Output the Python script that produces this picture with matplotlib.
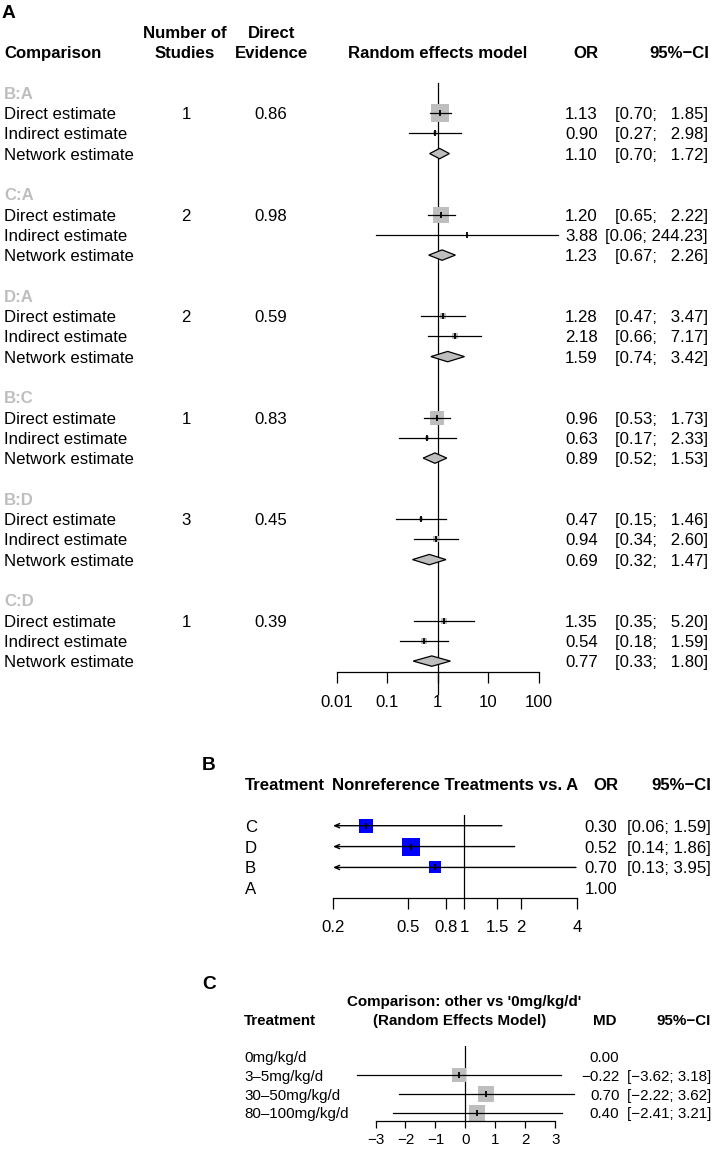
"""
Network meta-analysis forest plots, three panels on one page.

    A  split of direct / indirect / network estimates per comparison (OR, log axis)
    B  nonreference treatments vs. A (OR, log axis)
    C  dose groups vs. 0mg/kg/d, random effects model (MD, linear axis)

Layout is done in pixel units of the 713 x 1155 output; every mark is drawn
in data coordinates of the panel axes.
"""
import matplotlib

matplotlib.use("Agg")
import matplotlib.pyplot as plt
import numpy as np
from matplotlib.patches import Polygon
from matplotlib.transforms import blended_transform_factory

FIG_W, FIG_H = 713, 1155
DPI = 100
GRAY = "#bebebe"
VA = "center_baseline"

plt.rcParams["font.family"] = ["Liberation Sans", "DejaVu Sans"]

# ---------------- panel A: netsplit ----------------
comparisons = ["B:A", "C:A", "D:A", "B:C", "B:D", "C:D"]
n_studies = [1, 2, 2, 1, 3, 1]
direct_evidence = [0.86, 0.98, 0.59, 0.83, 0.45, 0.39]

direct_or = [1.13, 1.20, 1.28, 0.96, 0.47, 1.35]
direct_lo = [0.70, 0.65, 0.47, 0.53, 0.15, 0.35]
direct_hi = [1.85, 2.22, 3.47, 1.73, 1.46, 5.20]
direct_weight = [1.00, 0.84, 0.36, 0.74, 0.24, 0.30]

indirect_or = [0.90, 3.88, 2.18, 0.63, 0.94, 0.54]
indirect_lo = [0.27, 0.06, 0.66, 0.17, 0.34, 0.18]
indirect_hi = [2.98, 244.23, 7.17, 2.33, 2.60, 1.59]
indirect_weight = [0.18, 0.08, 0.30, 0.24, 0.30, 0.36]

network_or = [1.10, 1.23, 1.59, 0.89, 0.69, 0.77]
network_lo = [0.70, 0.67, 0.74, 0.52, 0.32, 0.33]
network_hi = [1.72, 2.26, 3.42, 1.53, 1.47, 1.80]

a_ticks = [0.01, 0.1, 1, 10, 100]
a_ticklabels = ["0.01", "0.1", "1", "10", "100"]

# ---------------- panel B: vs. A ----------------
b_treatments = ["C", "D", "B", "A"]
b_or = [0.30, 0.52, 0.70, 1.00]
b_lo = [0.06, 0.14, 0.13, np.nan]
b_hi = [1.59, 1.86, 3.95, np.nan]
b_weight = [0.78, 1.00, 0.68, 0.0]
b_ticks = [0.2, 0.5, 0.8, 1, 1.5, 2, 4]
b_ticklabels = ["0.2", "0.5", "0.8", "1", "1.5", "2", "4"]

# ---------------- panel C: vs. 0mg/kg/d ----------------
c_treatments = ["0mg/kg/d", "3–5mg/kg/d", "30–50mg/kg/d", "80–100mg/kg/d"]
c_md = [0.00, -0.22, 0.70, 0.40]
c_lo = [np.nan, -3.62, -2.22, -2.41]
c_hi = [np.nan, 3.18, 3.62, 3.21]
c_weight = [0.0, 0.85, 1.00, 0.98]
c_ticks = [-3, -2, -1, 0, 1, 2, 3]


def fx(px):
    return px / FIG_W


def add_panel_axes(fig, x0, x1, y0, y1):
    """Axes placed by pixel box (x0, y0) top-left to (x1, y1) bottom-right."""
    ax = fig.add_axes([fx(x0), 1 - y1 / FIG_H, (x1 - x0) / FIG_W, (y1 - y0) / FIG_H])
    ax.patch.set_alpha(0)
    for side in ("top", "left", "right"):
        ax.spines[side].set_visible(False)
    ax.set_yticks([])
    return ax


def fmt_num(v):
    return f"{v:.2f}".replace("-", "\u2212")


def draw_boxes(ax, est, lo, hi, rows, weights, color, max_side_px, xmin=None):
    for e, l, h, r, w in zip(est, lo, hi, rows, weights):
        if np.isnan(l):
            continue
        side = max_side_px * w * 0.72
        if w > 0:
            ax.scatter([e], [r], s=side ** 2, marker="s", color=color,
                       linewidths=0, zorder=2, clip_on=False)
        if xmin is not None and l < xmin:
            # lower limit is off the axis: draw the CI as an arrow to the edge
            ax.annotate("", xy=(xmin, r), xytext=(h, r),
                        arrowprops=dict(arrowstyle="->,head_length=0.35,head_width=0.15",
                                        lw=1.0, color="black", shrinkA=0, shrinkB=0),
                        zorder=3)
        else:
            ax.plot([l, h], [r, r], color="black", lw=0.9, zorder=3, clip_on=False)
        ax.scatter([e], [r], s=24, marker="|", color="black", linewidths=1.3,
                   zorder=4, clip_on=False)


def panel_a(fig):
    row_h, row0 = 20.3, 92.7
    ax = add_panel_axes(fig, 336.5, 538.5, row0 - 0.5 * row_h, 672.3)
    ax.set_xscale("log")
    ax.set_xlim(0.01, 100)
    ax.set_ylim((672.3 - row0) / row_h, -0.5)
    ax.set_xticks(a_ticks)
    ax.set_xticklabels(a_ticklabels)
    ax.minorticks_off()
    ax.tick_params(axis="x", direction="out", length=7.9, width=0.9, pad=8.5, labelsize=12.1)
    ax.spines["bottom"].set_linewidth(0.9)
    ax.axvline(1, ymin=-0.036, ymax=1, color="black", lw=0.9, zorder=1, clip_on=False)

    tr = blended_transform_factory(fig.transFigure, ax.transData)
    fs = 12.1
    hb = dict(transform=tr, fontsize=fs, fontweight="bold", va=VA)
    ax.text(fx(2), -4.0, "A", transform=tr, fontsize=13.8, fontweight="bold", va=VA)
    ax.text(fx(4), -2, "Comparison", **hb)
    ax.text(fx(185), -3, "Number of", ha="center", **hb)
    ax.text(fx(185), -2, "Studies", ha="center", **hb)
    ax.text(fx(271.5), -3, "Direct", ha="center", **hb)
    ax.text(fx(271.5), -2, "Evidence", ha="center", **hb)
    ax.text(fx(437.5), -2, "Random effects model", ha="center", **hb)
    ax.text(fx(586), -2, "OR", ha="center", **hb)
    ax.text(fx(709), -2, "95%\u2212CI", ha="right", **hb)

    group_rows = np.arange(len(comparisons)) * 5
    d_rows, i_rows, n_rows = group_rows + 1, group_rows + 2, group_rows + 3

    tx = dict(transform=tr, fontsize=fs, va=VA)
    for g, r in enumerate(group_rows):
        ax.text(fx(4), r, comparisons[g], fontweight="bold", color=GRAY, **tx)
        ax.text(fx(186), r + 1, str(n_studies[g]), ha="center", **tx)
        ax.text(fx(271), r + 1, f"{direct_evidence[g]:.2f}", ha="center", **tx)
        for k, (lab, est, lo, hi) in enumerate([
            ("Direct estimate", direct_or, direct_lo, direct_hi),
            ("Indirect estimate", indirect_or, indirect_lo, indirect_hi),
            ("Network estimate", network_or, network_lo, network_hi),
        ]):
            ax.text(fx(4), r + 1 + k, lab, **tx)
            ax.text(fx(598), r + 1 + k, f"{est[g]:.2f}", ha="right", **tx)
            ax.text(fx(708), r + 1 + k, f"[{lo[g]:.2f}; {hi[g]:6.2f}]", ha="right", **tx)

    draw_boxes(ax, direct_or, direct_lo, direct_hi, d_rows, direct_weight, GRAY, 18.0)
    draw_boxes(ax, indirect_or, indirect_lo, indirect_hi, i_rows, indirect_weight, GRAY, 18.0)

    half_h = 5.2 / row_h
    for e, l, h, r in zip(network_or, network_lo, network_hi, n_rows):
        ax.add_patch(Polygon([(l, r), (e, r - half_h), (h, r), (e, r + half_h)], closed=True,
                             facecolor=GRAY, edgecolor="black", lw=0.9, zorder=3, clip_on=False))


def panel_b(fig):
    row_h, row0 = 20.87, 825.7
    ax = add_panel_axes(fig, 333, 577, row0 - 0.51 * row_h, 898.3)
    ax.set_xscale("log")
    ax.set_xlim(0.2, 4)
    ax.set_ylim((898.3 - row0) / row_h, -0.51)
    ax.set_xticks(b_ticks)
    ax.set_xticklabels(b_ticklabels)
    ax.minorticks_off()
    ax.tick_params(axis="x", direction="out", length=7.9, width=0.9, pad=7.5, labelsize=12.1)
    ax.spines["bottom"].set_linewidth(0.9)
    ax.axvline(1, color="black", lw=0.9, zorder=1)

    tr = blended_transform_factory(fig.transFigure, ax.transData)
    fs = 12.1
    hb = dict(transform=tr, fontsize=fs, fontweight="bold", va=VA)
    ax.text(fx(202), -3.0, "B", transform=tr, fontsize=13.8, fontweight="bold", va=VA)
    ax.text(fx(245), -2, "Treatment", **hb)
    ax.text(fx(455), -2, "Nonreference Treatments vs. A", ha="center", **hb)
    ax.text(fx(606), -2, "OR", ha="center", **hb)
    ax.text(fx(711), -2, "95%\u2212CI", ha="right", **hb)

    rows = np.arange(len(b_treatments))
    tx = dict(transform=tr, fontsize=fs, va=VA)
    for r, lab, est, lo, hi in zip(rows, b_treatments, b_or, b_lo, b_hi):
        ax.text(fx(245), r, lab, **tx)
        ax.text(fx(617.5), r, f"{est:.2f}", ha="right", **tx)
        if not np.isnan(lo):
            ax.text(fx(711), r, f"[{lo:.2f}; {hi:.2f}]", ha="right", **tx)

    draw_boxes(ax, b_or, b_lo, b_hi, rows, b_weight, "#0000ff", 18.5, xmin=0.2)


def panel_c(fig):
    row_h, row0 = 18.67, 1056.7
    ax = add_panel_axes(fig, 375.5, 555.4, row0 - 0.57 * row_h, 1120.7)
    ax.set_xlim(-3, 3)
    ax.set_ylim((1120.7 - row0) / row_h, -0.57)
    ax.set_xticks(c_ticks)
    ax.tick_params(axis="x", direction="out", length=5.3, width=0.9, pad=3.2, labelsize=10.9)
    ax.spines["bottom"].set_linewidth(0.9)
    ax.axvline(0, color="black", lw=0.9, zorder=1)

    tr = blended_transform_factory(fig.transFigure, ax.transData)
    fs = 10.9
    hb = dict(transform=tr, fontsize=fs, fontweight="bold", va=VA)
    ax.text(fx(202), -3.95, "C", transform=tr, fontsize=13.8, fontweight="bold", va=VA)
    ax.text(fx(464), -3, "Comparison: other vs '0mg/kg/d'", ha="center", **hb)
    ax.text(fx(244), -2, "Treatment", **hb)
    ax.text(fx(460), -2, "(Random Effects Model)", ha="center", **hb)
    ax.text(fx(605), -2, "MD", ha="center", **hb)
    ax.text(fx(711), -2, "95%\u2212CI", ha="right", **hb)

    rows = np.arange(len(c_treatments))
    tx = dict(transform=tr, fontsize=fs, va=VA)
    for r, lab, est, lo, hi in zip(rows, c_treatments, c_md, c_lo, c_hi):
        ax.text(fx(244), r, lab, **tx)
        ax.text(fx(619.5), r, fmt_num(est), ha="right", **tx)
        if not np.isnan(lo):
            ax.text(fx(711), r, f"[{fmt_num(lo)}; {fmt_num(hi)}]", ha="right", **tx)

    draw_boxes(ax, c_md, c_lo, c_hi, rows, c_weight, GRAY, 15.5)


def main():
    fig = plt.figure(figsize=(FIG_W / DPI, FIG_H / DPI), dpi=DPI)
    fig.patch.set_facecolor("white")
    panel_a(fig)
    panel_b(fig)
    panel_c(fig)
    fig.savefig("out.png", dpi=DPI)
    plt.close(fig)


if __name__ == "__main__":
    main()
